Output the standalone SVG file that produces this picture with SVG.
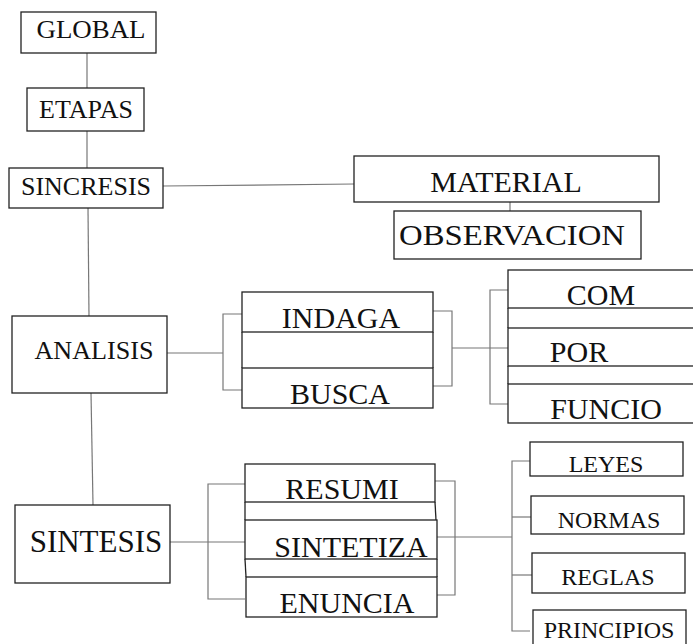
<svg xmlns="http://www.w3.org/2000/svg" width="693" height="644" viewBox="0 0 693 644">
<style>
.b{fill:#fff;stroke:#222;stroke-width:1.3}
.c{fill:none;stroke:#777;stroke-width:1.2}
.s{fill:none;stroke:#222;stroke-width:1.3}
text{font-family:"Liberation Serif","Times New Roman",serif;fill:#111;text-anchor:middle}
.t30{font-size:30px}
.t26{font-size:26px}
.t24{font-size:24px}
</style>
<rect width="693" height="644" fill="#fff"/>
<g id="connectors">
<line class="c" x1="87" y1="53" x2="87" y2="88"/>
<line class="c" x1="87" y1="131" x2="87" y2="168"/>
<line class="c" x1="88" y1="208" x2="89" y2="316"/>
<line class="c" x1="91" y1="393" x2="93" y2="505"/>
<line class="c" x1="163" y1="186" x2="354" y2="184"/>
<line class="c" x1="510" y1="202" x2="510" y2="211"/>
<polyline class="c" points="167,353 223,353"/>
<polyline class="c" points="242,314 223,314 223,390 242,390"/>
<polyline class="c" points="433,311 452,311 452,386 433,386"/>
<polyline class="c" points="452,348 508,348"/>
<polyline class="c" points="508,290 490,290 490,404 508,404"/>
<polyline class="c" points="170,542 245,542"/>
<polyline class="c" points="245,484 208,484 208,599 245,599"/>
<polyline class="c" points="435,481 455,481 455,595 437,595"/>
<polyline class="c" points="437,537 512,537"/>
<polyline class="c" points="530,461 512,461 512,631 530,631"/>
<line class="c" x1="512" y1="517" x2="531" y2="517"/>
<line class="c" x1="512" y1="575" x2="532" y2="575"/>
<line class="s" x1="242" y1="332" x2="242" y2="368"/>
<line class="s" x1="433" y1="332" x2="433" y2="368"/>
<line class="s" x1="508" y1="308" x2="508" y2="328"/>
<line class="s" x1="508" y1="366" x2="508" y2="384"/>
<line class="s" x1="245" y1="502" x2="245" y2="520"/>
<line class="s" x1="245" y1="559" x2="246" y2="577"/>
<line class="s" x1="435" y1="502" x2="436" y2="520"/>
<line class="s" x1="437" y1="559" x2="437" y2="577"/>
</g>
<g id="global"><rect class="b" x="21" y="12" width="135" height="41"/><text class="t26" x="91" y="38" textLength="109" lengthAdjust="spacingAndGlyphs">GLOBAL</text></g>
<g id="etapas"><rect class="b" x="27" y="88" width="117" height="43"/><text class="t26" x="86" y="118">ETAPAS</text></g>
<g id="sincresis"><rect class="b" x="9" y="168" width="154" height="40"/><text class="t26" x="86" y="195">SINCRESIS</text></g>
<g id="material"><rect class="b" x="354" y="156" width="305" height="46"/><text class="t30" x="506" y="192">MATERIAL</text></g>
<g id="observacion"><rect class="b" x="394" y="211" width="247" height="48"/><text class="t30" x="512" y="245" textLength="226" lengthAdjust="spacingAndGlyphs">OBSERVACION</text></g>
<g id="analisis"><rect class="b" x="12" y="316" width="155" height="77"/><text class="t26" x="94" y="359" textLength="119" lengthAdjust="spacingAndGlyphs">ANALISIS</text></g>
<g id="indaga"><rect class="b" x="242" y="292" width="191" height="40"/><text class="t30" x="341" y="328">INDAGA</text></g>
<g id="busca"><rect class="b" x="242" y="368" width="191" height="40"/><text class="t30" x="340" y="404">BUSCA</text></g>
<g id="com"><rect class="b" x="508" y="270" width="195" height="38"/><text class="t30" x="601" y="305">COM</text></g>
<g id="por"><rect class="b" x="508" y="328" width="195" height="38"/><text class="t30" x="579" y="362">POR</text></g>
<g id="funcio"><rect class="b" x="508" y="384" width="195" height="39"/><text class="t30" x="606" y="419">FUNCIO</text></g>
<g id="sintesis"><rect class="b" x="15" y="505" width="155" height="78"/><text x="96" y="552" font-size="31">SINTESIS</text></g>
<g id="resumi"><rect class="b" x="245" y="464" width="190" height="38"/><text class="t30" x="342" y="499">RESUMI</text></g>
<g id="sintetiza"><rect class="b" x="245" y="520" width="192" height="39"/><text class="t30" x="351" y="557">SINTETIZA</text></g>
<g id="enuncia"><rect class="b" x="246" y="577" width="191" height="40"/><text class="t30" x="347" y="613">ENUNCIA</text></g>
<g id="leyes"><rect class="b" x="530" y="442" width="153" height="34"/><text class="t24" x="606" y="472">LEYES</text></g>
<g id="normas"><rect class="b" x="531" y="496" width="153" height="38"/><text class="t24" x="609" y="528">NORMAS</text></g>
<g id="reglas"><rect class="b" x="532" y="553" width="153" height="40"/><text class="t24" x="608" y="585">REGLAS</text></g>
<g id="principios"><rect class="b" x="533" y="610" width="153" height="40"/><text class="t24" x="609" y="638">PRINCIPIOS</text></g>
</svg>
